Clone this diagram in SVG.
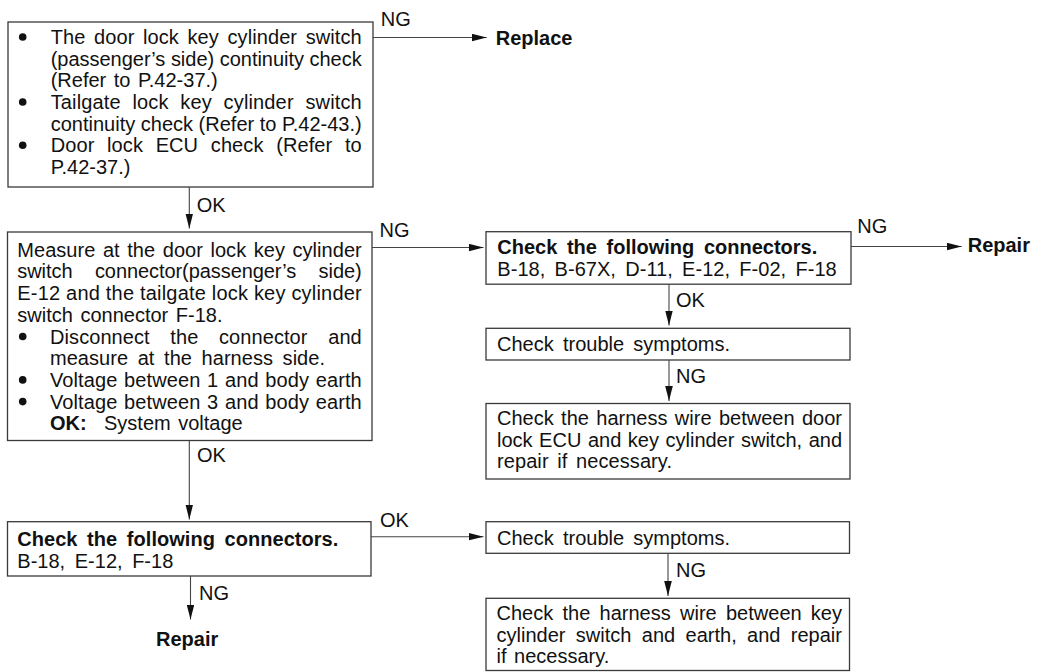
<svg xmlns="http://www.w3.org/2000/svg" width="1037" height="672" viewBox="0 0 1037 672">
<defs>
<style>
text{font-family:"Liberation Sans",Arial,Helvetica,sans-serif;font-size:20px;fill:#111}
.b{font-weight:bold}
.box{fill:#fff;stroke:#3a3a3a;stroke-width:1.3}
.c line{stroke:#444;stroke-width:1.1;marker-end:url(#ah)}
.dot{fill:#111}
</style>
<marker id="ah" markerUnits="userSpaceOnUse" markerWidth="16" markerHeight="8" refX="15" refY="3.8" orient="auto">
<path d="M0,0 L15,3.8 L0,7.6 z" fill="#111"/>
</marker>
</defs>
<rect width="1037" height="672" fill="#fff"/>

<g id="nodeA">
<rect class="box" x="8" y="22" width="365" height="165"/>
<circle class="dot" cx="22.7" cy="37" r="3.8"/>
<circle class="dot" cx="22.7" cy="102" r="3.8"/>
<circle class="dot" cx="22.7" cy="145.3" r="3.8"/>
<text x="50.7" y="44" textLength="311" lengthAdjust="spacing" word-spacing="3">The door lock key cylinder switch</text>
<text x="50.7" y="65.7" textLength="311" lengthAdjust="spacing">(passenger’s side) continuity check</text>
<text x="50.7" y="87.3" word-spacing="2">(Refer to P.42-37.)</text>
<text x="50.7" y="109" textLength="311" lengthAdjust="spacing" word-spacing="6">Tailgate lock key cylinder switch</text>
<text x="50.7" y="130.7" textLength="311" lengthAdjust="spacing">continuity check (Refer to P.42-43.)</text>
<text x="50.7" y="152.3" textLength="311" lengthAdjust="spacing" word-spacing="7">Door lock ECU check (Refer to</text>
<text x="50.7" y="174">P.42-37.)</text>
</g>

<g id="nodeB">
<rect class="box" x="7.5" y="232" width="364.5" height="208.5"/>
<circle class="dot" cx="22.7" cy="336.5" r="3.8"/>
<circle class="dot" cx="22.7" cy="379.9" r="3.8"/>
<circle class="dot" cx="22.7" cy="401.6" r="3.8"/>
<text x="17.3" y="256.7" textLength="344.4" lengthAdjust="spacing" word-spacing="2">Measure at the door lock key cylinder</text>
<text x="17.3" y="278.4" textLength="344.4" lengthAdjust="spacing" word-spacing="17">switch connector(passenger’s side)</text>
<text x="17.3" y="300.1" textLength="344.4" lengthAdjust="spacing">E-12 and the tailgate lock key cylinder</text>
<text x="17.3" y="321.8" word-spacing="2">switch connector F-18.</text>
<text x="50" y="343.5" textLength="311.7" lengthAdjust="spacing" word-spacing="15">Disconnect the connector and</text>
<text x="50" y="365.2" textLength="275" lengthAdjust="spacing" word-spacing="4">measure at the harness side.</text>
<text x="50" y="386.9" textLength="311.7" lengthAdjust="spacing" word-spacing="1">Voltage between 1 and body earth</text>
<text x="50" y="408.6" textLength="311.7" lengthAdjust="spacing" word-spacing="1">Voltage between 3 and body earth</text>
<text x="50" y="430.3" class="b">OK:</text>
<text x="104" y="430.3" word-spacing="2">System voltage</text>
</g>

<g id="nodeC">
<rect class="box" x="7.5" y="521.7" width="363.5" height="54.3"/>
<text x="17.3" y="546" class="b" textLength="321" lengthAdjust="spacing" word-spacing="4">Check the following connectors.</text>
<text x="17.3" y="567.5" textLength="156" lengthAdjust="spacing" word-spacing="4">B-18, E-12, F-18</text>
</g>

<g id="nodeG">
<rect class="box" x="486" y="231.7" width="365" height="52.5"/>
<text x="497.3" y="254" class="b" textLength="320" lengthAdjust="spacing" word-spacing="4">Check the following connectors.</text>
<text x="497.3" y="275.5" textLength="339.4" lengthAdjust="spacing" word-spacing="3.6">B-18, B-67X, D-11, E-12, F-02, F-18</text>
</g>

<g id="nodeH">
<rect class="box" x="486" y="328.3" width="364" height="31.7"/>
<text x="497" y="350.5" textLength="233" lengthAdjust="spacing" word-spacing="3.7">Check trouble symptoms.</text>
</g>

<g id="nodeE">
<rect class="box" x="486" y="403.5" width="364" height="75.5"/>
<text x="497" y="425" textLength="345" lengthAdjust="spacing" word-spacing="1.8">Check the harness wire between door</text>
<text x="497" y="446.5" textLength="345" lengthAdjust="spacing" word-spacing="1">lock ECU and key cylinder switch, and</text>
<text x="497" y="468" textLength="175" lengthAdjust="spacing" word-spacing="3">repair if necessary.</text>
</g>

<g id="nodeD">
<rect class="box" x="486" y="521.7" width="363.5" height="31.6"/>
<text x="497" y="544.5" textLength="233" lengthAdjust="spacing" word-spacing="3.7">Check trouble symptoms.</text>
</g>

<g id="nodeF">
<rect class="box" x="486" y="598.3" width="363.5" height="72.2"/>
<text x="496.5" y="620" textLength="345.5" lengthAdjust="spacing" word-spacing="3.6">Check the harness wire between key</text>
<text x="496.5" y="641.7" textLength="345.5" lengthAdjust="spacing" word-spacing="4.8">cylinder switch and earth, and repair</text>
<text x="496.5" y="663.4" word-spacing="2">if necessary.</text>
</g>

<g id="terminals">
<text x="495.7" y="44.5" class="b">Replace</text>
<text x="967.7" y="252.3" class="b">Repair</text>
<text x="156" y="645.5" class="b">Repair</text>
</g>

<g id="connectors" class="c">
<line x1="373" y1="37.5" x2="486.7" y2="37.5"/>
<line x1="372" y1="247.5" x2="483.5" y2="247.5"/>
<line x1="851" y1="246.5" x2="961.7" y2="246.5"/>
<line x1="189.3" y1="187" x2="189.3" y2="228.5"/>
<line x1="189.3" y1="440.5" x2="189.3" y2="519.5"/>
<line x1="371" y1="536.7" x2="483.5" y2="536.7"/>
<line x1="190.5" y1="576" x2="190.5" y2="619.5"/>
<line x1="669" y1="284.2" x2="669" y2="325.5"/>
<line x1="669" y1="360" x2="669" y2="401"/>
<line x1="668" y1="553.3" x2="668" y2="596"/>
</g>

<g id="labels">
<text x="380.7" y="26">NG</text>
<text x="379.5" y="237">NG</text>
<text x="857.3" y="233.3">NG</text>
<text x="196.7" y="211.7">OK</text>
<text x="197" y="462">OK</text>
<text x="380" y="526.7">OK</text>
<text x="199" y="600">NG</text>
<text x="676" y="306.7">OK</text>
<text x="676" y="383.3">NG</text>
<text x="676" y="577">NG</text>
</g>
</svg>
